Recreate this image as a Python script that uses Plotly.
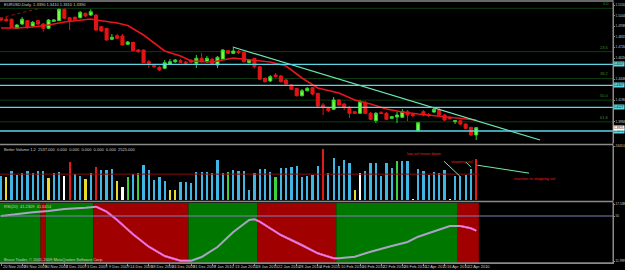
import plotly.graph_objects as go

# ---------------- data ----------------
title_text = "EURUSD,Daily  1.3390 1.3410 1.3310 1.3390"
date_labels = ["20 Nov 2009", "26 Nov 2009", "30 Nov 2009", "2 Dec 2009", "3 Dec 2009",
               "9 Dec 2009", "14 Dec 2009", "18 Dec 2009", "24 Dec 2009", "31 Dec 2009",
               "7 Jan 2010", "13 Jan 2010", "18 Jan 2010", "22 Jan 2010", "28 Jan 2010",
               "4 Feb 2010", "10 Feb 2010", "16 Feb 2010", "22 Feb 2010", "26 Feb 2010",
               "12 Apr 2010", "16 Apr 2010", "22 Apr 2010"]

open_p = [1.5017, 1.5007, 1.5007, 1.4917, 1.4960, 1.4993, 1.4940, 1.4993, 1.4960, 1.4917,
          1.4987, 1.4993, 1.5107, 1.5023, 1.5027, 1.5023, 1.5067, 1.5050, 1.5050, 1.4933,
          1.4917, 1.4807, 1.4843, 1.4840, 1.4757, 1.4777, 1.4700, 1.4700, 1.4583, 1.4547,
          1.4527, 1.4517, 1.4560, 1.4583, 1.4593, 1.4580, 1.4593, 1.4567, 1.4617, 1.4583,
          1.4607, 1.4550, 1.4610, 1.4693, 1.4667, 1.4685, 1.4677, 1.4573, 1.4617, 1.4533,
          1.4417, 1.4390, 1.4450, 1.4440, 1.4400, 1.4350, 1.4317, 1.4243, 1.4293, 1.4323,
          1.4267, 1.4150, 1.4117, 1.4107, 1.4200, 1.4160, 1.4117, 1.4083, 1.4067, 1.4173,
          1.4067, 1.3993, 1.4073, 1.4067, 1.4017, 1.4030, 1.4027, 1.4083, 1.4055, 1.3893,
          1.4083, 1.4055, 1.4080, 1.4100, 1.4050, 1.4025, 1.3983, 1.3993, 1.3960, 1.3927,
          1.3850]
high_p = [1.5030, 1.5033, 1.5015, 1.4960, 1.5030, 1.5000, 1.4990, 1.5000, 1.4970, 1.5010,
          1.5010, 1.5115, 1.5115, 1.5030, 1.5035, 1.5090, 1.5075, 1.5107, 1.5060, 1.4940,
          1.4920, 1.4860, 1.4860, 1.4860, 1.4790, 1.4780, 1.4710, 1.4705, 1.4600, 1.4560,
          1.4540, 1.4600, 1.4610, 1.4610, 1.4610, 1.4590, 1.4610, 1.4650, 1.4670, 1.4640,
          1.4620, 1.4640, 1.4710, 1.4700, 1.4720, 1.4700, 1.4680, 1.4610, 1.4620, 1.4540,
          1.4425, 1.4450, 1.4470, 1.4450, 1.4410, 1.4360, 1.4320, 1.4310, 1.4330, 1.4330,
          1.4270, 1.4170, 1.4130, 1.4230, 1.4210, 1.4170, 1.4140, 1.4090, 1.4200, 1.4190,
          1.4080, 1.4080, 1.4090, 1.4080, 1.4040, 1.4080, 1.4110, 1.4100, 1.4070, 1.3980,
          1.4100, 1.4070, 1.4120, 1.4120, 1.4060, 1.4040, 1.4000, 1.4000, 1.3965, 1.3930,
          1.3930]
low_p = [1.4990, 1.4983, 1.4920, 1.4910, 1.4950, 1.4910, 1.4930, 1.4950, 1.4883, 1.4910,
         1.4980, 1.4990, 1.5010, 1.4900, 1.5000, 1.5015, 1.5030, 1.5040, 1.4890, 1.4880,
         1.4795, 1.4800, 1.4810, 1.4745, 1.4750, 1.4690, 1.4675, 1.4570, 1.4520, 1.4520,
         1.4490, 1.4510, 1.4550, 1.4570, 1.4570, 1.4560, 1.4570, 1.4520, 1.4575, 1.4570,
         1.4560, 1.4520, 1.4600, 1.4660, 1.4660, 1.4660, 1.4575, 1.4565, 1.4517, 1.4400,
         1.4375, 1.4380, 1.4425, 1.4375, 1.4350, 1.4300, 1.4235, 1.4235, 1.4285, 1.4250,
         1.4130, 1.4050, 1.4080, 1.4100, 1.4140, 1.4100, 1.4020, 1.4060, 1.4060, 1.4060,
         1.4000, 1.3970, 1.4060, 1.4000, 1.4010, 1.3970, 1.4020, 1.3990, 1.4030, 1.3890,
         1.4040, 1.4030, 1.4070, 1.4040, 1.3990, 1.4005, 1.3960, 1.3950, 1.3910, 1.3840,
         1.3800]
close_p = [1.5000, 1.4993, 1.4927, 1.4950, 1.5007, 1.4927, 1.4977, 1.4960, 1.4917, 1.5000,
           1.5000, 1.5107, 1.5017, 1.4993, 1.5007, 1.5077, 1.5040, 1.5083, 1.4900, 1.4890,
           1.4800, 1.4827, 1.4817, 1.4750, 1.4780, 1.4693, 1.4683, 1.4573, 1.4567, 1.4533,
           1.4500, 1.4573, 1.4583, 1.4600, 1.4577, 1.4570, 1.4580, 1.4617, 1.4583, 1.4617,
           1.4567, 1.4627, 1.4700, 1.4667, 1.4690, 1.4675, 1.4583, 1.4600, 1.4533, 1.4407,
           1.4383, 1.4433, 1.4433, 1.4383, 1.4360, 1.4307, 1.4243, 1.4293, 1.4317, 1.4260,
           1.4140, 1.4127, 1.4093, 1.4200, 1.4150, 1.4127, 1.4067, 1.4067, 1.4183, 1.4067,
           1.4007, 1.4067, 1.4065, 1.4007, 1.4033, 1.4050, 1.4083, 1.4050, 1.4045, 1.3973,
           1.4050, 1.4045, 1.4107, 1.4050, 1.4000, 1.4015, 1.3993, 1.3960, 1.3917, 1.3850,
           1.3923]

# moving average (read at sample bars)
ma_bar = [0, 3, 6, 9, 12, 17, 18, 22, 24, 27, 31, 34, 36, 40, 44, 48, 51, 54, 57, 60,
          64, 67, 70, 73, 76, 79, 83, 87, 90]
ma_val = [1.4920, 1.4920, 1.4930, 1.4950, 1.4980, 1.5010, 1.5000, 1.4970, 1.4945, 1.4850,
          1.4690, 1.4640, 1.4590, 1.4580, 1.4620, 1.4600, 1.4580, 1.4540, 1.4420, 1.4320,
          1.4270, 1.4200, 1.4160, 1.4110, 1.4080, 1.4060, 1.4040, 1.4020, 1.4000]

# horizontal support/resistance levels and trend line
sr_levels = [1.4557, 1.4347, 1.4127, 1.3890]
current_price = 1.3925
fib_high, fib_low = 1.5117, 1.3280
fib_ratios = [0.0, 0.236, 0.382, 0.5, 0.618]
trend_bar = [43.9, 102.1]
trend_price = [1.4730, 1.3800]
dotted_bar = [-0.2, 7.4]
dotted_price = [1.5020, 1.5117]

# Better Volume
volume = [1080, 1020, 1320, 1125, 1200, 1305, 1200, 1305, 1305, 975,
          1200, 1245, 1080, 1725, 1170, 1080, 930, 1200, 1500, 1350,
          1350, 1410, 870, 600, 1050, 1170, 1200, 1605, 1380, 900,
          1050, 855, 450, 450, 810, 825, 750, 1260, 1275, 1275,
          1200, 1830, 1200, 1275, 1380, 1320, 1320, 450, 1230, 1425,
          1425, 1275, 1020, 1470, 1470, 1500, 1530, 1050, 1095, 1125,
          1530, 2325, 1200, 1920, 1560, 1800, 1695, 450, 1200, 1320,
          1695, 1680, 1080, 1680, 1470, 1755, 1755, 1755, 45, 1425,
          1305, 1125, 1245, 1200, 1350, 45, 1080, 1080, 1125, 1425,
          1845]
# N normal, L low volume, W low churn, G high churn, C climax
vol_type = "NLNNNNNNNL" "NNWCNNLNCN" "NNLWGNGNNN" "NNLLNNNNNN" "NNNGNNNNNN" \
           "NNGNNNNNNN" "NCNNNNNLWN" "NNNNNGNNWN" "NNNNNWNNNN" "C"
vol_average = 1170
vol_max = 2443

# oscillator (read at sample bars) and its regime per bar
osc_bar = [0, 3, 6, 9, 12, 16, 18, 20, 22, 25, 28, 31, 34, 36, 38, 41, 44, 47, 48, 49,
           53, 57, 60, 63, 64, 67, 70, 74, 77, 79, 83, 85, 87, 89, 90]
osc_val = [50, 52, 53.7, 55, 57, 58.3, 59.3, 54.3, 46, 31.7, 19.3, 10, 5.3, 5.3, 9, 19, 34,
           46, 46.7, 44.3, 31, 21, 12.7, 7.7, 7.7, 9.3, 14.3, 20, 24, 29.3, 36.7, 40, 40,
           37.7, 35.3]
regime = "GGGGGGGGRG" "GGGGGGGGRR" "RRRRRRRRRR" "RRRRRRGGGG" "GGGGGGGGGR" \
         "RRRRRRRRRR" "RRRRGGGGGG" "GGGGGGGGGG" "GGGGGGGRRR" "R"

# ---------------- layout helpers ----------------
W, H_PLOT, BAR_PX = 613, 263, 5.28
N = len(open_p)
bars = list(range(N))


def dom(top, bot):
    return [1 - bot / H_PLOT, 1 - top / H_PLOT]


def py(y):
    return 1 - y / H_PLOT


GREY = "#8a8a8a"
TXT = "#d0d0d0"
FONT = "Liberation Sans"
AX_FS = 3.1

fig = go.Figure()

# volume bars
vcol = {"N": "#3fb6e4", "L": "#e8dc28", "W": "#ffffff", "G": "#3cd23c", "C": "#e21a1a"}
fig.add_trace(go.Bar(x=bars, y=volume, width=0.42, marker=dict(color=[vcol[t] for t in vol_type], line=dict(width=0)),
                     xaxis="x", yaxis="y2", hoverinfo="skip"))

# candles
fig.add_trace(go.Candlestick(x=bars, open=open_p, high=high_p, low=low_p, close=close_p,
                             increasing=dict(line=dict(color="#2ed42e", width=1), fillcolor="#7dff3a"),
                             decreasing=dict(line=dict(color="#e41414", width=1), fillcolor="#e41414"),
                             whiskerwidth=0, xaxis="x", yaxis="y", hoverinfo="skip"))

# moving average
fig.add_trace(go.Scatter(x=ma_bar, y=ma_val, mode="lines", line=dict(color="#e8141e", width=1.6),
                         xaxis="x", yaxis="y", hoverinfo="skip"))
# trend line
fig.add_trace(go.Scatter(x=trend_bar, y=trend_price, mode="lines", line=dict(color="#6ae6b4", width=1.2),
                         xaxis="x", yaxis="y", hoverinfo="skip"))
fig.add_trace(go.Scatter(x=dotted_bar, y=dotted_price, mode="lines", line=dict(color="#a01010", width=1, dash="dot"),
                         xaxis="x", yaxis="y", hoverinfo="skip"))

# oscillator: grey line + pink in down regimes
fig.add_trace(go.Scatter(x=osc_bar, y=osc_val, mode="lines", line=dict(color="#a9a3c4", width=2),
                         xaxis="x", yaxis="y3", hoverinfo="skip"))
runs = []
start = None
for i, r in enumerate(regime + "G"):
    if r == "R" and start is None:
        start = i
    if r != "R" and start is not None:
        runs.append((start, i - 1))
        start = None
for a, b in runs:
    if b - a < 2:
        continue
    xs = [x for x in osc_bar if a - 1 <= x <= b + 1]
    ys = [osc_val[osc_bar.index(x)] for x in xs]
    fig.add_trace(go.Scatter(x=xs, y=ys, mode="lines", line=dict(color="#e83cc4", width=2),
                             xaxis="x", yaxis="y3", hoverinfo="skip"))
    fig.add_trace(go.Scatter(x=xs, y=ys, mode="lines", line=dict(color="#ffd0f2", width=0.6),
                             xaxis="x", yaxis="y3", hoverinfo="skip"))

shapes = []
# regime backgrounds
rcol = {"G": "#007800", "R": "#a00000"}
s = 0
for i in range(1, N + 1):
    if i == N or regime[i] != regime[s]:
        shapes.append(dict(type="rect", xref="x", yref="y3 domain", x0=s - 0.5, x1=i - 0.5, y0=0, y1=1,
                           fillcolor=rcol[regime[s]], line=dict(width=0), layer="below"))
        s = i
# fibo levels
for r in fib_ratios:
    lvl = fib_high - r * (fib_high - fib_low)
    shapes.append(dict(type="line", xref="paper", yref="y", x0=0, x1=1, y0=lvl, y1=lvl,
                       line=dict(color="#0f3c12", width=1), layer="below"))
# S/R levels
for lvl in sr_levels:
    shapes.append(dict(type="line", xref="paper", yref="y", x0=0, x1=1, y0=lvl, y1=lvl,
                       line=dict(color="#5cd6e6", width=1.3)))
# volume average
shapes.append(dict(type="line", xref="x", yref="y2", x0=-0.5, x1=N - 0.5, y0=vol_average, y1=vol_average,
                   line=dict(color="#8a0c0c", width=1)))
# oscillator 50 line
shapes.append(dict(type="line", xref="paper", yref="y3", x0=0, x1=1, y0=50, y1=50,
                   line=dict(color="#7f80b8", width=1)))
# panel borders
for yb in [1, 144.5, 201.5, 263]:
    shapes.append(dict(type="line", xref="paper", yref="paper", x0=0, x1=1, y0=py(yb), y1=py(yb),
                       line=dict(color=GREY, width=1.5)))
shapes.append(dict(type="line", xref="paper", yref="paper", x0=1, x1=1, y0=0, y1=1,
                   line=dict(color=GREY, width=1)))
# annotation arrows in volume panel
arrow_lines = [([83.9, 86.9], [1755, 1080]), ([88.1, 89.0], [1710, 1485]), ([90.2, 100.0], [1575, 1215])]
for xs, ys in arrow_lines:
    shapes.append(dict(type="line", xref="x", yref="y2", x0=xs[0], x1=xs[1], y0=ys[0], y1=ys[1],
                       line=dict(color="#78eaa0", width=1)))

ann = []
small = dict(family=FONT, size=4, color=TXT)
ann.append(dict(text=title_text, xref="paper", yref="paper", x=2 / W, y=py(4.5), xanchor="left",
                yanchor="middle", showarrow=False, font=small))
ann.append(dict(text="Better Volume 1.2  2537.000  0.000  0.000  0.000  0.000  0.000  2525.000", xref="paper",
                yref="paper", x=2 / W, y=py(149), xanchor="left", yanchor="middle", showarrow=False, font=small))
ann.append(dict(text="RSI(20)  41.2309  41.6414", xref="paper", yref="paper", x=2 / W, y=py(206.5),
                xanchor="left", yanchor="middle", showarrow=False, font=small))
ann.append(dict(text="Bruce Trader, \u00a9 2001-2009 MetaQuotes Software Corp.", xref="paper", yref="paper",
                x=2 / W, y=py(259), xanchor="left", yanchor="middle", showarrow=False, font=small))
# fibo labels
for r in fib_ratios:
    lvl = fib_high - r * (fib_high - fib_low)
    ann.append(dict(text="%.1f" % (r * 100), xref="paper", yref="y", x=611 / W, y=lvl, xanchor="right",
                    yanchor="bottom", showarrow=False, font=dict(family=FONT, size=4, color="#3b8a2e")))
# level labels on the price scale
for lvl in sr_levels:
    ann.append(dict(text="%.4f" % lvl, xref="paper", yref="y", x=1.0, y=lvl, xanchor="left", yanchor="middle",
                    showarrow=False, bgcolor="#5cd6e6", borderpad=0,
                    font=dict(family=FONT, size=AX_FS, color="#000000")))
ann.append(dict(text="%.4f" % current_price, xref="paper", yref="y", x=1.0, y=current_price, xanchor="left",
                yanchor="middle", showarrow=False, bgcolor="#ffffff", borderpad=0,
                font=dict(family=FONT, size=AX_FS, color="#000000")))
# volume notes
notes = [("low vol move down", 76.5, 2115), ("stopping vol", 84.8, 1755), ("reaction to stopping vol", 96.8, 990)]
for t, x, y in notes:
    ann.append(dict(text=t, xref="x", yref="y2", x=x, y=y, xanchor="left", yanchor="middle", showarrow=False,
                    font=dict(family=FONT, size=4, color="#e02020")))
# date labels
tick_bars = [4 * k for k in range(len(date_labels))]
for b, t in zip(tick_bars, date_labels):
    ann.append(dict(text=t, xref="x", yref="paper", x=b, y=py(266.5), xanchor="left", yanchor="middle",
                    showarrow=False, font=small))

# price ticks (skip the ones hidden by level boxes)
boxed = sr_levels + [current_price]
price_ticks = [v for v in (1.5150 - 0.0106 * k for k in range(13))
               if min(abs(v - b) for b in boxed) > 0.0052]

axis_common = dict(showgrid=False, zeroline=False, side="right", anchor="x", showline=True, linecolor=GREY,
                   ticks="outside", ticklen=1, tickcolor=GREY, tickfont=dict(family=FONT, size=AX_FS, color=TXT),
                   fixedrange=True, automargin=False)

fig.update_layout(
    width=625, height=270,
    margin=dict(l=0, r=12, t=0, b=7, autoexpand=False),
    paper_bgcolor="#000000", plot_bgcolor="#000000",
    showlegend=False,
    barmode="overlay", bargap=0,
    boxgap=0.42, boxgroupgap=0,
    xaxis=dict(range=[-1 / BAR_PX, (W - 1) / BAR_PX], showgrid=False, zeroline=False, showline=True,
               linecolor=GREY, ticks="outside", ticklen=2, tickcolor=GREY, tickvals=tick_bars,
               showticklabels=False, rangeslider=dict(visible=False), anchor="y3", fixedrange=True,
               automargin=False),
    yaxis=dict(domain=dom(3, 143), range=[1.377, 1.517], tickvals=price_ticks,
               ticktext=["%.4f" % v for v in price_ticks], **axis_common),
    yaxis2=dict(domain=dom(146, 200), range=[0, vol_max], tickvals=[vol_max], ticktext=["%.1f" % vol_max],
                **axis_common),
    yaxis3=dict(domain=dom(203, 263), range=[3, 63], tickvals=[62, 50, 5],
                ticktext=["17.538", "50", "11.999"], **axis_common),
    shapes=shapes,
    annotations=ann,
)

fig.write_html("out.html")
